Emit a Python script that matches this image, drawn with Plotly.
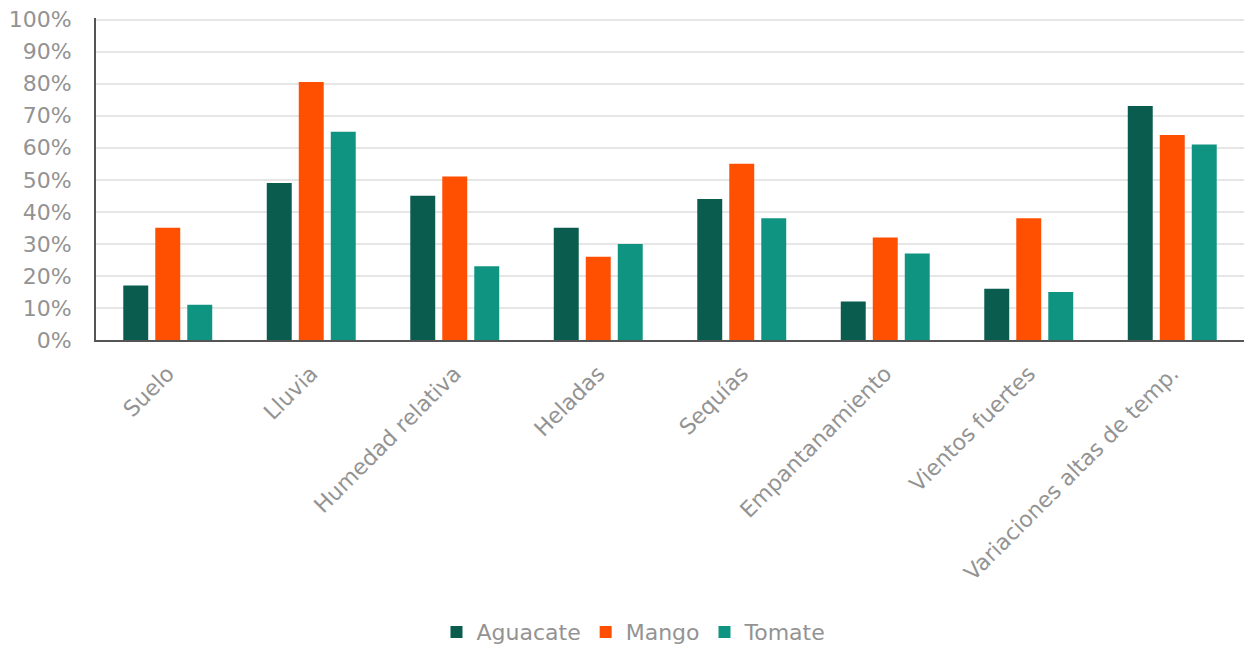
import plotly.graph_objects as go

categorias = ["Suelo", "Lluvia", "Humedad relativa", "Heladas", "Sequías",
              "Empantanamiento", "Vientos fuertes", "Variaciones altas de temp."]
aguacate = [17, 49, 45, 35, 44, 12, 16, 73]
mango = [35, 80.5, 51, 26, 55, 32, 38, 64]
tomate = [11, 65, 23, 30, 38, 27, 15, 61]

y_ticks = [0, 10, 20, 30, 40, 50, 60, 70, 80, 90, 100]
y_tick_labels = [f"{v}%" for v in y_ticks]

series = [
    ("Aguacate", aguacate, "#0a5c4f"),
    ("Mango", mango, "#ff4f00"),
    ("Tomate", tomate, "#0e9480"),
]

FONT = "DejaVu Sans"
TEXT_GRAY = "#939393"
FS = 22

fig = go.Figure()
for name, vals, color in series:
    fig.add_trace(go.Bar(
        name=name, x=categorias, y=vals,
        marker=dict(color=color, line=dict(width=0)),
    ))

fig.update_layout(
    width=1248, height=653,
    margin=dict(l=96, r=4, t=18, b=313, autoexpand=False),
    paper_bgcolor="white", plot_bgcolor="white",
    barmode="group", bargap=0.331, bargroupgap=0.22,
    font=dict(family=FONT, size=FS, color=TEXT_GRAY),
    showlegend=True,
    legend=dict(
        orientation="h", x=0.508, xref="container", xanchor="center",
        y=0.032, yref="container", yanchor="middle",
        font=dict(family=FONT, size=FS, color=TEXT_GRAY),
        itemwidth=30, tracegroupgap=0,
    ),
)

fig.update_xaxes(
    type="category", tickangle=-45, automargin=False,
    showline=True, linecolor="#555555", linewidth=2,
    showgrid=False, ticks="", tickfont=dict(family=FONT, size=FS, color=TEXT_GRAY),
    ticklabelstandoff=10,
)

fig.update_yaxes(
    range=[0, 100.5], tickvals=y_ticks, ticktext=y_tick_labels, automargin=False,
    showline=True, linecolor="#555555", linewidth=2,
    showgrid=True, gridcolor="#e6e6e6", gridwidth=2,
    zeroline=False, ticks="",
    tickfont=dict(family=FONT, size=FS, color=TEXT_GRAY),
    ticklabelstandoff=18,
)

fig.write_html("out.html")
